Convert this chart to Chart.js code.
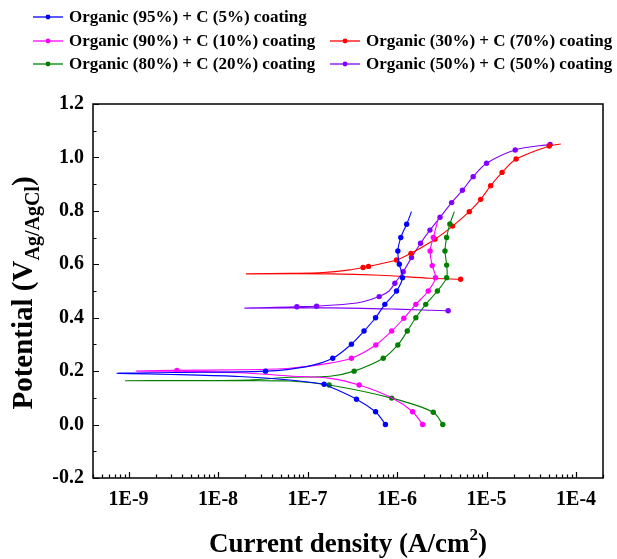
<!DOCTYPE html>
<html><head><meta charset="utf-8">
<script src="https://cdn.jsdelivr.net/npm/chart.js@4/dist/chart.umd.min.js"></script>
<style>html,body{margin:0;padding:0;background:#fff;}#wrap{width:617px;height:559px;position:relative}</style>
</head><body><div id="wrap"><canvas id="c" width="617" height="559"></canvas></div>
<script>
// ---- data (current density A/cm^2, potential V vs Ag/AgCl), ordered cathodic end -> Ecorr -> anodic end
const seriesLabels = [
  'Organic (95%) + C (5%) coating',
  'Organic (90%) + C (10%) coating',
  'Organic (80%) + C (20%) coating',
  'Organic (30%) + C (70%) coating',
  'Organic (50%) + C (50%) coating'
];
const c95Current = [7.41e-7,6.61e-7,5.75e-7,3.52e-7,1.78e-7,1.53e-7,6.31e-8,1.74e-8,3.72e-9,7.41e-10,3.16e-9,3.39e-8,9.77e-8,1.91e-7,3.09e-7,4.27e-7,5.75e-7,7.3e-7,9.86e-7,1.15e-6,1.06e-6,1.02e-6,1.10e-6,1.28e-6,1.45e-6];
const c95Potential = [0.0,0.024,0.048,0.095,0.142,0.151,0.167,0.180,0.187,0.192,0.195,0.200,0.217,0.248,0.301,0.350,0.400,0.450,0.500,0.550,0.600,0.650,0.700,0.750,0.797];
const c95Markers = [0,2,3,5,11,13,14,15,16,17,18,19,20,21,22,23];

const c90Current = [1.93e-6,1.49e-6,8.71e-7,3.77e-7,1.78e-7,6.31e-8,1.74e-8,3.47e-9,1.23e-9,3.47e-9,1.74e-8,6.31e-8,1.78e-7,3.09e-7,5.79e-7,8.71e-7,1.19e-6,1.62e-6,2.23e-6,2.69e-6,2.47e-6,2.34e-6,2.54e-6,2.88e-6];
const c90Potential = [0.0,0.048,0.100,0.148,0.173,0.182,0.194,0.200,0.200,0.203,0.205,0.211,0.230,0.248,0.298,0.350,0.398,0.450,0.500,0.550,0.595,0.650,0.700,0.770];
const c90Markers = [0,1,3,9,13,14,15,16,17,18,19,20,21,22];

const c80Current = [3.24e-6,2.54e-6,8.71e-7,1.74e-7,6.31e-8,1.05e-8,9.33e-10,3.16e-9,2.24e-8,6.31e-8,1.78e-7,3.31e-7,7.0e-7,1.02e-6,1.30e-6,1.62e-6,2.09e-6,2.82e-6,3.58e-6,3.58e-6,3.43e-6,3.58e-6,3.89e-6,4.37e-6];
const c80Potential = [0.0,0.046,0.099,0.148,0.163,0.164,0.164,0.165,0.167,0.177,0.181,0.200,0.248,0.298,0.350,0.400,0.450,0.500,0.550,0.597,0.650,0.700,0.751,0.797];
const c80Markers = [0,1,2,3,11,12,13,14,15,16,17,18,19,20,21,22];

const c30Current = [5.13e-6,2.34e-6,6.46e-7,1.78e-7,2.09e-8,6.31e-8,1.48e-7,2.95e-7,4.17e-7,4.79e-7,9.86e-7,1.43e-6,2.65e-6,4.17e-6,6.41e-6,8.59e-6,1.11e-5,1.49e-5,2.14e-5,5.01e-5,6.76e-5];
const c30Potential = [0.544,0.548,0.559,0.564,0.564,0.566,0.569,0.579,0.588,0.592,0.616,0.641,0.694,0.743,0.797,0.843,0.894,0.944,0.994,1.043,1.050];
const c30Markers = [0,8,9,10,11,12,13,14,15,16,17,18,19];

const c50Current = [3.72e-6,9.86e-7,1.78e-7,2.0e-8,7.59e-8,1.26e-7,2.95e-7,4.17e-7,6.31e-7,8.13e-7,9.44e-7,1.17e-6,1.45e-6,1.83e-6,2.33e-6,3.02e-6,4.07e-6,5.37e-6,7.08e-6,1.0e-5,2.09e-5,5.13e-5];
const c50Potential = [0.426,0.432,0.437,0.436,0.441,0.443,0.452,0.460,0.479,0.500,0.529,0.572,0.625,0.679,0.728,0.776,0.831,0.877,0.928,0.978,1.028,1.049];
const c50Markers = [0,4,5,8,10,11,12,13,14,15,16,17,18,19,20,21];

const xTickValues = [1e-9,1e-8,1e-7,1e-6,1e-5,1e-4];
const yTickValues = [-0.2,0.0,0.2,0.4,0.6,0.8,1.0,1.2];

// ---- styling
const colors = ['#0000ff','#ff00ff','#008000','#ff0000','#8000ff'];
const SERIF = '"Liberation Serif","Times New Roman",serif';
const seriesData = [
  [c95Current,c95Potential,c95Markers],
  [c90Current,c90Potential,c90Markers],
  [c80Current,c80Potential,c80Markers],
  [c30Current,c30Potential,c30Markers],
  [c50Current,c50Potential,c50Markers]
];
const datasets = seriesData.map(([cur,pot,marks],k)=>({
  label: seriesLabels[k],
  data: cur.map((c,i)=>({x:c,y:pot[i]})),
  borderColor: colors[k], backgroundColor: colors[k],
  borderWidth: 1.1, tension: 0.3,
  pointRadius: cur.map((c,i)=> marks.includes(i) ? 2.7 : 0),
  pointBorderWidth: 0, pointStyle: 'circle'
}));

// legend layout: [row y, line x start]
const legendPos = [[17,33],[41,33],[64,33],[41,330],[64,330]];

const framePlugin = {
  id:'frame',
  afterDraw(chart){
    const ctx = chart.ctx, a = chart.chartArea, xs = chart.scales.x, ys = chart.scales.y;
    ctx.save();
    ctx.strokeStyle = '#000'; ctx.lineWidth = 1.5;
    ctx.strokeRect(a.left, a.top, a.right-a.left, a.bottom-a.top);
    ctx.lineWidth = 1.2;
    ctx.beginPath();
    for (let i=0;i<yTickValues.length;i++){
      const v = yTickValues[i];
      const p = Math.round(ys.getPixelForValue(v))+0.5;
      ctx.moveTo(a.left, p); ctx.lineTo(a.left+6, p);
      if (i<yTickValues.length-1){
        const pm = Math.round(ys.getPixelForValue((v+yTickValues[i+1])/2))+0.5;
        ctx.moveTo(a.left, pm); ctx.lineTo(a.left+3.5, pm);
      }
    }
    for (let e=-10;e<=-4;e++){
      for (let m=1;m<=9;m++){
        const v = m*Math.pow(10,e);
        if (v < xs.min || v > xs.max) continue;
        const p = Math.round(xs.getPixelForValue(v))+0.5;
        ctx.moveTo(p, a.bottom); ctx.lineTo(p, a.bottom-(m===1?6:3.5));
      }
    }
    ctx.stroke();

    // axis titles
    ctx.fillStyle = '#000';
    ctx.textBaseline = 'alphabetic';
    ctx.textAlign = 'left';
    const xbig = 'bold 27px '+SERIF, xsmall = 'bold 17px '+SERIF;
    ctx.font = xbig; const t1 = 'Current density (A/cm', t3 = ')';
    const w1 = ctx.measureText(t1).width, w3 = ctx.measureText(t3).width;
    ctx.font = xsmall; const w2 = ctx.measureText('2').width;
    let x0 = (a.left+a.right)/2 - (w1+w2+w3)/2, yb = 552;
    ctx.font = xbig; ctx.fillText(t1, x0, yb);
    ctx.font = xsmall; ctx.fillText('2', x0+w1, yb-12);
    ctx.font = xbig; ctx.fillText(t3, x0+w1+w2, yb);

    const ybig = 'bold 29px '+SERIF, ysmall = 'bold 20px '+SERIF;
    ctx.save();
    ctx.translate(32, 293);
    ctx.rotate(-Math.PI/2);
    ctx.font = ybig; const s1 = 'Potential (V', s3 = ')';
    const v1 = ctx.measureText(s1).width, v3 = ctx.measureText(s3).width;
    ctx.font = ysmall; const s2 = 'Ag/AgCl'; const v2 = ctx.measureText(s2).width;
    let y0 = -(v1+v2+v3)/2;
    ctx.font = ybig; ctx.fillText(s1, y0, 0);
    ctx.font = ysmall; ctx.fillText(s2, y0+v1, 7);
    ctx.font = ybig; ctx.fillText(s3, y0+v1+v2, 0);
    ctx.restore();

    // legend
    ctx.font = 'bold 17px '+SERIF; ctx.textBaseline = 'middle'; ctx.textAlign='left';
    chart.data.datasets.forEach((ds,k)=>{
      const [ly, lx] = legendPos[k];
      ctx.strokeStyle = ds.borderColor; ctx.lineWidth = 1.3;
      ctx.beginPath(); ctx.moveTo(lx, ly); ctx.lineTo(lx+30, ly); ctx.stroke();
      ctx.fillStyle = ds.borderColor;
      ctx.beginPath(); ctx.arc(lx+15, ly, 2.4, 0, Math.PI*2); ctx.fill();
      ctx.fillStyle = '#000';
      ctx.fillText(ds.label, lx+36, ly+1);
    });
    ctx.restore();
  }
};

new Chart(document.getElementById('c'), {
  type:'line',
  data:{datasets},
  options:{
    responsive:false, animation:false, devicePixelRatio:1,
    layout:{padding:{top:104,right:14,left:0,bottom:0}},
    plugins:{legend:{display:false}, tooltip:{enabled:false}},
    scales:{
      x:{type:'logarithmic', min:4e-10, max:2e-4, position:'bottom',
        grid:{display:false, drawTicks:false}, border:{display:false},
        ticks:{font:{family:SERIF, weight:'bold', size:20}, color:'#000', padding:10, maxRotation:0, autoSkip:false,
          callback:(v)=>'1E'+Math.round(Math.log10(v))},
        afterBuildTicks:(s)=>{ s.ticks = xTickValues.map(v=>({value:v})); },
        afterFit:(s)=>{ s.height = 81; }
      },
      y:{type:'linear', min:-0.2, max:1.2,
        grid:{display:false, drawTicks:false}, border:{display:false},
        ticks:{font:{family:SERIF, weight:'bold', size:20}, color:'#000', padding:9,
          callback:(v)=>Number(v).toFixed(1)},
        afterBuildTicks:(s)=>{ s.ticks = yTickValues.map(v=>({value:v})); },
        afterFit:(s)=>{ s.width = 93; }
      }
    }
  },
  plugins:[framePlugin]
});
</script></body></html>
